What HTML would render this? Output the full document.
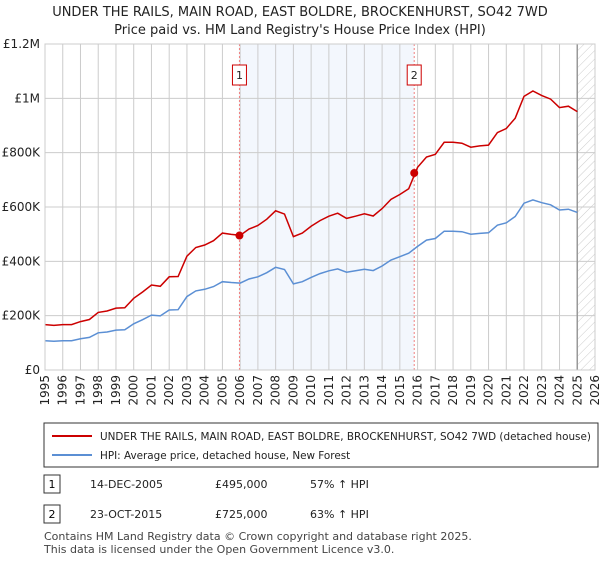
<!DOCTYPE html>
<html><head><meta charset="utf-8"><style>
body{margin:0;background:#fff;font-family:"Liberation Sans","DejaVu Sans",sans-serif;}
svg text{font-family:"DejaVu Sans","Liberation Sans",sans-serif;}
</style></head><body>
<svg id="c" width="600" height="560" viewBox="0 0 600 560" xmlns="http://www.w3.org/2000/svg">
<defs><pattern id="hatch" width="6" height="6" patternUnits="userSpaceOnUse" patternTransform="rotate(45)"><line x1="0" y1="0" x2="0" y2="6" stroke="#ccc" stroke-width="1"/></pattern></defs>
<text x="300" y="16" text-anchor="middle" font-size="13" fill="#222">UNDER THE RAILS, MAIN ROAD, EAST BOLDRE, BROCKENHURST, SO42 7WD</text>
<text x="300" y="34" text-anchor="middle" font-size="13" fill="#222">Price paid vs. HM Land Registry's House Price Index (HPI)</text>
<g id="plot"></g>
<rect x="44" y="423" width="554" height="44" fill="#fff" stroke="#333" stroke-width="1"/>
<line x1="52" y1="436" x2="92" y2="436" stroke="#cc0000" stroke-width="2"/>
<text x="100" y="440" font-size="10.4" fill="#222">UNDER THE RAILS, MAIN ROAD, EAST BOLDRE, BROCKENHURST, SO42 7WD (detached house)</text>
<line x1="52" y1="455" x2="92" y2="455" stroke="#5b8fd4" stroke-width="2"/>
<text x="100" y="459" font-size="10.4" fill="#222">HPI: Average price, detached house, New Forest</text>
<rect x="44" y="475" width="16" height="18" fill="#fff" stroke="#333"/>
<text x="52" y="488" text-anchor="middle" font-size="11">1</text>
<text x="90" y="488" font-size="11" fill="#222">14-DEC-2005</text>
<text x="215" y="488" font-size="11" fill="#222">£495,000</text>
<text x="310" y="488" font-size="11" fill="#222">57% ↑ HPI</text>
<rect x="44" y="505" width="16" height="18" fill="#fff" stroke="#333"/>
<text x="52" y="518" text-anchor="middle" font-size="11">2</text>
<text x="90" y="518" font-size="11" fill="#222">23-OCT-2015</text>
<text x="215" y="518" font-size="11" fill="#222">£725,000</text>
<text x="310" y="518" font-size="11" fill="#222">63% ↑ HPI</text>
<text x="44" y="540" font-size="11" fill="#444">Contains HM Land Registry data © Crown copyright and database right 2025.</text>
<text x="44" y="553" font-size="11" fill="#444">This data is licensed under the Open Government Licence v3.0.</text>
</svg>
<script>
const years=[1995,1995.5,1996,1996.5,1997,1997.5,1998,1998.5,1999,1999.5,2000,2000.5,2001,2001.5,2002,2002.5,2003,2003.5,2004,2004.5,2005,2005.5,2006,2006.5,2007,2007.5,2008,2008.5,2009,2009.5,2010,2010.5,2011,2011.5,2012,2012.5,2013,2013.5,2014,2014.5,2015,2015.5,2016,2016.5,2017,2017.5,2018,2018.5,2019,2019.5,2020,2020.5,2021,2021.5,2022,2022.5,2023,2023.5,2024,2024.5,2025];
const hpiValues=[108,106,108,108,115,120,137,140,147,148,170,185,202,199,221,222,270,291,297,307,325,322,320,335,343,358,378,370,317,325,341,355,365,372,360,365,371,366,383,405,417,430,455,478,484,511,511,509,500,503,505,533,542,565,614,626,616,608,589,592,580];
const propValues=[167,164,167,167,178,186,212,217,228,229,264,287,313,308,343,344,419,451,460,476,504,499,496,519,532,555,586,574,491,504,529,550,566,577,558,566,575,567,594,628,646,667,746,784,794,838,838,835,820,825,828,874,889,927,1007,1027,1010,997,966,971,951];
const saleYears=[2005.96,2015.81];
const salePrices=[495,725];
const saleLabels=["1","2"];
const yTicks=[0,200,400,600,800,1000,1200];
const yTickLabels=["£0","£200K","£400K","£600K","£800K","£1M","£1.2M"];
const xTicks=[1995,1996,1997,1998,1999,2000,2001,2002,2003,2004,2005,2006,2007,2008,2009,2010,2011,2012,2013,2014,2015,2016,2017,2018,2019,2020,2021,2022,2023,2024,2025,2026];
const dataEnd=2025.0;

const X0=45,X1=595,Y0=370,Y1=44;
const xs=v=>X0+(v-1995)/(2026-1995)*(X1-X0);
const ys=v=>Y0-v/1200*(Y0-Y1);
const g=document.getElementById('plot');
const NS='http://www.w3.org/2000/svg';
function mk(t,a){const e=document.createElementNS(NS,t);for(const k in a)e.setAttribute(k,a[k]);g.appendChild(e);return e;}
let e;
e=mk('rect',{x:xs(saleYears[0]),y:Y1,width:xs(saleYears[1])-xs(saleYears[0]),height:Y0-Y1,fill:'#eef3fc',opacity:0.7});


e=mk('rect',{x:xs(dataEnd),y:Y1,width:X1-xs(dataEnd),height:Y0-Y1,fill:'url(#hatch)'});


xTicks.forEach(t=>{e=mk('line',{x1:xs(t),x2:xs(t),y1:Y1,y2:Y0,stroke:'#ccc','stroke-width':1});


const tx=xs(t)+4,ty=Y0+5;
e=mk('text',{x:tx,y:ty,'text-anchor':'end','font-size':12,fill:'#222',transform:'rotate(-90 '+tx+' '+ty+')'});e.textContent=t;

});
yTicks.forEach((t,i)=>{e=mk('line',{x1:X0,x2:X1,y1:ys(t),y2:ys(t),stroke:'#ccc','stroke-width':1});


e=mk('text',{x:X0-5,y:ys(t)+4,'text-anchor':'end','font-size':12,fill:'#222'});e.textContent=yTickLabels[i];

});
e=mk('line',{x1:xs(dataEnd),x2:xs(dataEnd),y1:Y1,y2:Y0,stroke:'#999','stroke-width':1.5});


saleYears.forEach((s,i)=>{e=mk('line',{x1:xs(s),x2:xs(s),y1:Y1,y2:Y0,stroke:'#f08080','stroke-width':1,'stroke-dasharray':'2,2'});


e=mk('rect',{x:xs(s)-7,y:65,width:14,height:20,fill:'#fff',stroke:'#cc0000'});


e=mk('text',{x:xs(s),y:79,'text-anchor':'middle','font-size':11,fill:'#222'});e.textContent=saleLabels[i];

});
const path=(vals)=>vals.map((v,i)=>(i?'L':'M')+xs(years[i]).toFixed(1)+','+ys(v).toFixed(1)).join('');
e=mk('path',{d:path(hpiValues),fill:'none',stroke:'#5b8fd4','stroke-width':1.5});


e=mk('path',{d:path(propValues),fill:'none',stroke:'#cc0000','stroke-width':1.5});


saleYears.forEach((s,i)=>{e=mk('circle',{cx:xs(s),cy:ys(salePrices[i]),r:4,fill:'#cc0000'});

});
e=mk('rect',{x:X0,y:Y1,width:X1-X0,height:Y0-Y1,fill:'none',stroke:'#ccc'});


</script>
</body></html>
